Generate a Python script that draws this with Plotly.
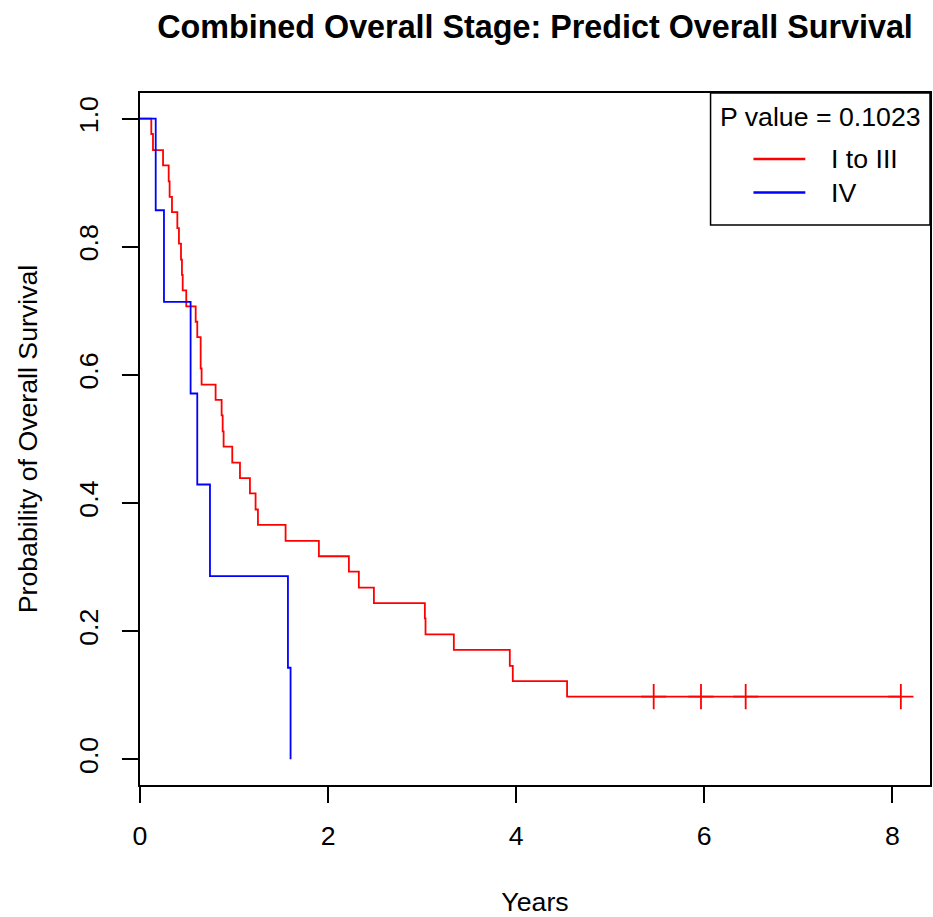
import plotly.graph_objects as go

# Kaplan-Meier estimates for the two stage groups (time in years)
stage_1_3_times = [0, 0.12, 0.138, 0.245, 0.305, 0.315, 0.34, 0.397, 0.414, 0.436,
                   0.446, 0.454, 0.492, 0.592, 0.609, 0.645, 0.655, 0.804, 0.868,
                   0.879, 0.889, 0.981, 1.063, 1.169, 1.229, 1.254, 1.548, 1.902,
                   2.221, 2.327, 2.487, 3.029, 3.036, 3.337, 3.932, 3.964, 4.541, 8.09]
stage_1_3_surv = [1.0, 0.976, 0.951, 0.927, 0.902, 0.878, 0.854, 0.829, 0.805, 0.780,
                  0.756, 0.732, 0.707, 0.683, 0.659, 0.610, 0.585, 0.561, 0.537,
                  0.512, 0.488, 0.463, 0.439, 0.415, 0.390, 0.366, 0.341, 0.317,
                  0.293, 0.268, 0.244, 0.220, 0.195, 0.171, 0.146, 0.122, 0.098, 0.098]
stage_1_3_censor_times = [5.462, 5.965, 6.44, 8.09]
stage_1_3_censor_surv = [0.098, 0.098, 0.098, 0.098]

stage_4_times = [0, 0.167, 0.255, 0.538, 0.609, 0.744, 1.573, 1.601]
stage_4_surv = [1.0, 0.857, 0.714, 0.571, 0.429, 0.286, 0.143, 0.0]

group_names = ["I to III", "IV"]
group_colors = ["#FF0000", "#0000FF"]
p_value_text = "P value = 0.1023"

x_ticks = [0, 2, 4, 6, 8]
y_ticks = [0.0, 0.2, 0.4, 0.6, 0.8, 1.0]

FONT = "Liberation Sans, Arial, Helvetica, sans-serif"
BASE = 26.7

W, H = 933, 917
ML, MR, MT, MB = 140, 1, 93, 132


def px(x):
    return (x - ML) / (W - ML - MR)


def py(y):
    return (H - MB - y) / (H - MT - MB)


fig = go.Figure()

fig.add_trace(go.Scatter(
    x=stage_1_3_times, y=stage_1_3_surv, mode="lines", line_shape="hv",
    line=dict(color=group_colors[0], width=1.8), name=group_names[0],
    showlegend=False))
fig.add_trace(go.Scatter(
    x=stage_1_3_censor_times, y=stage_1_3_censor_surv, mode="markers",
    marker=dict(symbol="cross-thin", size=18,
                line=dict(color=group_colors[0], width=1.8)),
    showlegend=False))
fig.add_trace(go.Scatter(
    x=stage_4_times, y=stage_4_surv, mode="lines", line_shape="hv",
    line=dict(color=group_colors[1], width=1.8), name=group_names[1],
    showlegend=False))

axis_common = dict(
    showline=True, mirror=True, linecolor="black", linewidth=1.5,
    ticks="outside", ticklen=16, tickwidth=1.5, tickcolor="black",
    showgrid=False, zeroline=False,
    tickfont=dict(family=FONT, size=BASE, color="black"),
)

fig.update_xaxes(
    range=[0, 8.40], tickvals=x_ticks, ticktext=[str(v) for v in x_ticks],
    title=dict(text="Years", font=dict(family=FONT, size=BASE, color="black"),
               standoff=44),
    ticklabelstandoff=10,
    **axis_common)
fig.update_yaxes(
    range=[-0.04, 1.04], tickvals=y_ticks,
    ticktext=[f"{v:.1f}" for v in y_ticks], tickangle=-90,
    title=dict(text="Probability of Overall Survival",
               font=dict(family=FONT, size=BASE, color="black"), standoff=28),
    ticklabelstandoff=14,
    **axis_common)

# Legend box drawn in figure space
shapes = [
    dict(type="rect", xref="paper", yref="paper",
         x0=px(712), x1=px(932), y0=py(225), y1=py(93),
         line=dict(color="black", width=1.5), fillcolor="white"),
]
annotations = [
    dict(text=p_value_text, xref="paper", yref="paper", x=px(822), y=py(117),
         xanchor="center", yanchor="middle", showarrow=False,
         font=dict(family=FONT, size=BASE, color="black")),
]
for i, (name, color) in enumerate(zip(group_names, group_colors)):
    yy = 159 + i * 33.5
    shapes.append(dict(type="line", xref="paper", yref="paper",
                       x0=px(755), x1=px(807), y0=py(yy), y1=py(yy),
                       line=dict(color=color, width=2.6)))
    annotations.append(dict(text=name, xref="paper", yref="paper",
                            x=px(831), y=py(yy), xanchor="left",
                            yanchor="middle", showarrow=False,
                            font=dict(family=FONT, size=BASE, color="black")))

fig.update_layout(
    width=W, height=H,
    margin=dict(l=ML, r=MR, t=MT, b=MB),
    paper_bgcolor="white", plot_bgcolor="white",
    title=dict(text="Combined Overall Stage: Predict Overall Survival",
               x=px(536), xanchor="center", xref="paper",
               y=1 - 27 / H, yref="container", yanchor="middle",
               font=dict(family=FONT, size=32.3, color="black", weight="bold")),
    shapes=shapes, annotations=annotations,
    showlegend=False,
)

fig.write_html("out.html")
